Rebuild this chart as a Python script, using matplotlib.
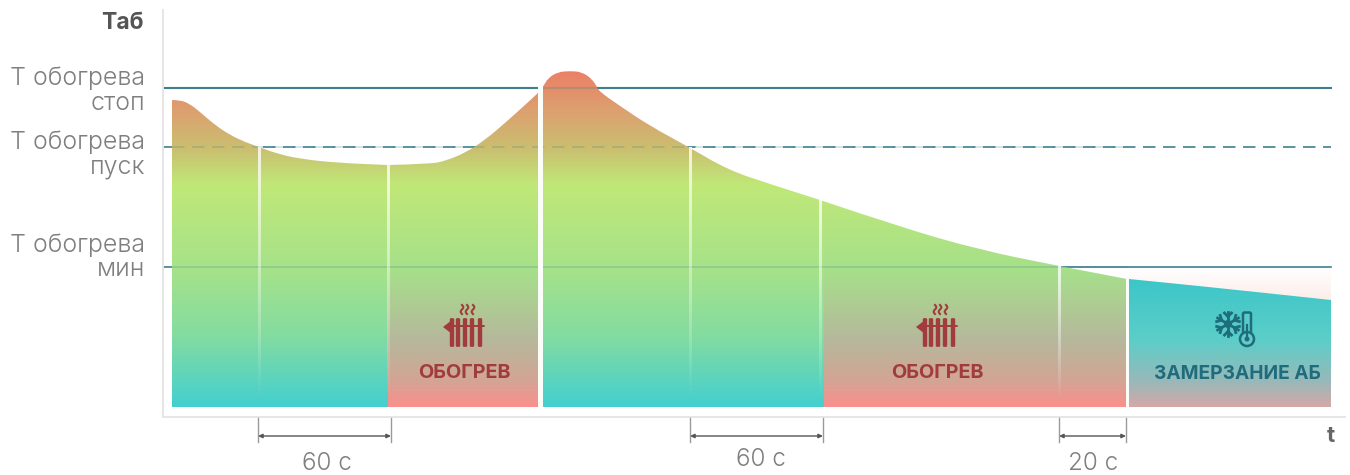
import numpy as np
import matplotlib
matplotlib.use("Agg")
import matplotlib.pyplot as plt
from matplotlib.colors import to_rgb
from matplotlib.path import Path
from matplotlib.patches import Polygon, Circle, FancyBboxPatch

plt.rcParams['font.family'] = ['Inter', 'DejaVu Sans']

# Schematic battery temperature curve: time position, temperature position
time_pts = [172, 180, 190, 200, 215, 230, 245, 259, 275, 300, 340, 388, 430, 445, 465, 485, 505, 525, 538,
            543, 548, 558, 570, 582, 592, 597, 600, 620, 650, 687, 728, 770, 820, 900, 980, 1059, 1127,
            1129, 1200, 1331]
temp_pts = [100, 100, 104, 112, 125, 135, 142, 147, 153, 159, 163, 165, 164, 161, 153, 140, 123, 105, 93,
            87, 78, 72, 71, 72, 79, 87, 92, 106, 126, 146, 170, 184, 200, 227, 250, 266, 279,
            279, 286, 300]

level_names = ["стоп", "пуск", "мин"]
level_values = [88, 147, 267]
level_label_rows = [(78, 103), (142, 167), (245, 269)]

# Operating phases: start, end, palette key
phase_start = [172, 388, 540, 824, 1129]
phase_end = [388, 540, 824, 1126, 1331]
phase_kind = ["cool", "heat", "cool", "heat", "frozen"]

divider_x = [259, 388, 690, 820, 1059]
span_start = [258, 690, 1059]
span_end = [391, 823, 1126]
span_label = ["60 с", "60 с", "20 с"]
span_label_x = [327, 761, 1093]
span_label_y = [463, 459, 463]

FLOOR = 407
gradients = {
    "cool": ([70, 110, 147, 185, 270, 335, 407],
             ["#ec7f66", "#dca06f", "#cbbd70", "#c0e878", "#a6e28a", "#84dca0", "#44cfd0"]),
    "heat": ([70, 110, 147, 185, 270, 340, 380, 407],
             ["#ec7f66", "#dca06f", "#cbbd70", "#c0e878", "#a6e08a", "#b6b89c", "#d2a595", "#fb8f8c"]),
    "frozen": ([279, 340, 380, 407],
               ["#3cc6c8", "#5ccec8", "#96b9ba", "#d6a8a8"]),
}

fig = plt.figure(figsize=(13.5, 4.75), dpi=100)
ax = fig.add_axes([163 / 1350, 1 - 417 / 475, (1345 - 163) / 1350, (417 - 10) / 475])
ax.set_xlim(163, 1345)
ax.set_ylim(417, 10)
ax.set_xticks([])
ax.set_yticks([])
for side in ("top", "right"):
    ax.spines[side].set_visible(False)
for side in ("left", "bottom"):
    ax.spines[side].set_color("#e6e6e6")
    ax.spines[side].set_linewidth(1.4)

GRAY = "#7f7f7f"
LINE = "#3f7f90"
HEAT = "#a23b3d"
COLD = "#1f6c7c"


def curve_at(x):
    return float(np.interp(x, time_pts, temp_pts))


def smooth_clip(x0, x1):
    """Closed path under the curve, rounded with quadratic segments through the read points."""
    pts = [(t, v) for t, v in zip(time_pts, temp_pts) if x0 < t < x1]
    pts = [(x0, curve_at(x0))] + pts + [(x1, curve_at(x1))]
    verts = [(x0, FLOOR), pts[0]]
    codes = [Path.MOVETO, Path.LINETO]
    for a, b in zip(pts[1:-1], pts[2:]):
        mid = ((a[0] + b[0]) / 2, (a[1] + b[1]) / 2)
        verts += [a, mid]
        codes += [Path.CURVE3, Path.CURVE3]
    verts += [pts[-1], (x1, FLOOR), (x0, FLOOR)]
    codes += [Path.LINETO, Path.LINETO, Path.CLOSEPOLY]
    return Path(verts, codes)


def gradient_image(stops, colors, top=60, bottom=FLOOR):
    rows = np.linspace(top, bottom, 700)
    rgb = np.array([to_rgb(c) for c in colors])
    return np.stack([np.interp(rows, stops, rgb[:, k]) for k in range(3)], axis=1)[:, None, :]


# Threshold levels sit behind the fill, with a faint trace left on top of it
for i, lv in enumerate(level_values):
    ls = (0, (7.5, 4.5)) if i == 1 else "-"
    lw = 1.5 if i == 0 else 1.2
    ax.plot([163, 1331], [lv, lv], color=LINE, lw=lw, ls=ls, zorder=2)
    ax.plot([172, 1127], [lv, lv], color=LINE, lw=lw, ls=ls, alpha=0.25, zorder=5)

# Pale tint above the frozen phase
tint = np.ones((60, 1, 4))
tint[:, 0, :3] = to_rgb("#fbe9e6")
tint[:, 0, 3] = np.linspace(0, 0.8, 60)
ax.imshow(tint, extent=(1129, 1331, 300, 267), aspect="auto", zorder=1, interpolation="bilinear")

# One gradient block per phase, cut to the curve
for x0, x1, kind in zip(phase_start, phase_end, phase_kind):
    stops, colors = gradients[kind]
    im = ax.imshow(gradient_image(stops, colors), extent=(x0, x1, FLOOR, 60), aspect="auto", zorder=3,
                   interpolation="bilinear")
    im.set_clip_path(smooth_clip(x0, x1), transform=ax.transData)

# Vertical separators fade out towards the floor
for x in divider_x:
    fade = np.ones((100, 1, 4))
    fade[:, 0, 3] = np.linspace(0.8, 0.0, 100)
    ax.imshow(fade, extent=(x - 1.5, x + 1.5, 400, curve_at(x)), aspect="auto", zorder=6, interpolation="bilinear")
ax.fill_between([538, 543], 85, FLOOR, color="#fbfdf8", lw=0, zorder=6)
ax.fill_between([1126, 1129], 277, FLOOR, color="#fbfdf8", lw=0, zorder=6)

ax.set_xlim(163, 1345)
ax.set_ylim(417, 10)

# Axis titles and level labels
ax.text(144, 23, "Таб", ha="right", va="center", fontsize=16.5, fontweight="bold", color="#555555", clip_on=False)
ax.text(1331, 436, "t", ha="center", va="center", fontsize=16, fontweight="bold", color="#666666", clip_on=False)
for name, (r1, r2) in zip(level_names, level_label_rows):
    ax.text(145, r1, "Т обогрева", ha="right", va="center", fontsize=18, color=GRAY, fontweight=300, clip_on=False)
    ax.text(145, r2, name, ha="right", va="center", fontsize=18, color=GRAY, fontweight=300, clip_on=False)

# Duration brackets below the axis
for x0, x1, lab, lx, ly in zip(span_start, span_end, span_label, span_label_x, span_label_y):
    ax.plot([x0, x0], [418, 442], color="#9a9a9a", lw=1, clip_on=False, zorder=4)
    ax.plot([x1, x1], [418, 442], color="#9a9a9a", lw=1, clip_on=False, zorder=4)
    ax.annotate("", xy=(x0, 436), xytext=(x1, 436), annotation_clip=False,
                arrowprops=dict(arrowstyle="<|-|>,head_length=0.25,head_width=0.12", color="#555555", lw=1,
                                shrinkA=0, shrinkB=0))
    ax.text(lx, ly, lab, ha="center", va="center", fontsize=17.5, color=GRAY, fontweight=300, clip_on=False)


def radiator(cx):
    for dx in (-12, -6, 1, 8, 16):
        ax.add_patch(FancyBboxPatch((cx + dx - 0.8, 319.5), 1.6, 26, boxstyle="round,pad=1.4", fc=HEAT, ec="none", zorder=8))
    ax.plot([cx - 14, cx + 20], [326, 326], color=HEAT, lw=1.4, zorder=8, solid_capstyle="round")
    ax.add_patch(Polygon([(cx - 21, 327), (cx - 12, 320), (cx - 12, 334)], closed=True, fc=HEAT, ec="none", zorder=8))
    phase = np.linspace(0, 2 * np.pi, 30)
    for dx in (-2, 3, 9):
        ax.plot(cx + dx + 1.3 * np.sin(phase), np.linspace(305, 314, 30), color=HEAT, lw=1.5, zorder=8)


radiator(464)
radiator(937)
ax.text(464, 373, "ОБОГРЕВ", ha="center", va="center", fontsize=14.3, fontweight="bold", color=HEAT, zorder=8)
ax.text(937, 373, "ОБОГРЕВ", ha="center", va="center", fontsize=14.3, fontweight="bold", color=HEAT, zorder=8)

# Snowflake with thermometer
sx, sy = 1228, 324
for ang in np.deg2rad(np.arange(0, 360, 60) + 30):
    ux, uy = np.cos(ang), np.sin(ang)
    ax.plot([sx, sx + 12 * ux], [sy, sy + 12 * uy], color=COLD, lw=2, zorder=8)
    for side in (-1, 1):
        a2 = ang + side * np.deg2rad(45)
        ax.plot([sx + 7.5 * ux, sx + 7.5 * ux + 5 * np.cos(a2)], [sy + 7.5 * uy, sy + 7.5 * uy + 5 * np.sin(a2)],
                color=COLD, lw=2, zorder=8)
ax.add_patch(Circle((sx, sy), 4, fc=COLD, ec="none", zorder=8))
tx = 1247
ax.add_patch(FancyBboxPatch((tx - 2.5, 314), 5, 24, boxstyle="round,pad=1.5", fc="#58cdc8", ec=COLD, lw=1.8, zorder=8))
ax.add_patch(Circle((tx, 339), 7, fc="#62cbc6", ec=COLD, lw=1.8, zorder=8))
ax.add_patch(Circle((tx, 339), 2.5, fc=COLD, ec="none", zorder=9))
ax.plot([tx, tx], [325, 338], color=COLD, lw=1.6, zorder=9)
ax.text(1237, 374, "ЗАМЕРЗАНИЕ АБ", ha="center", va="center", fontsize=13.8, fontweight="bold", color=COLD, zorder=8)

fig.savefig("out.png", dpi=100)
